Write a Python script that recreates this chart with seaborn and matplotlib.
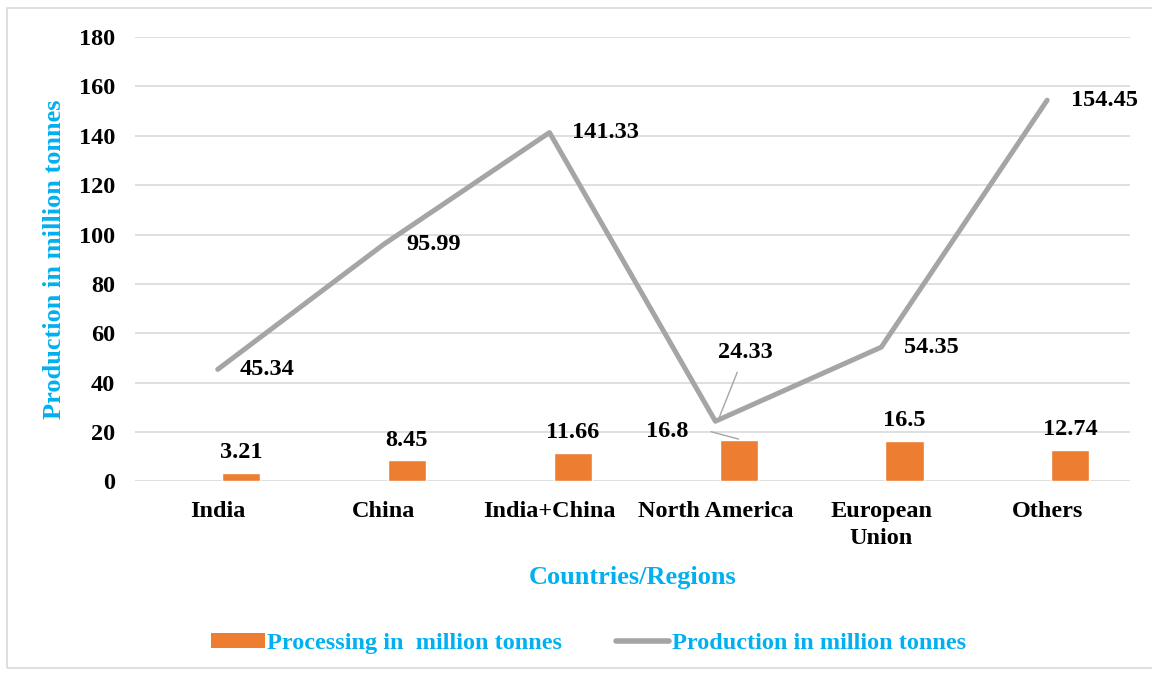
import numpy as np
import pandas as pd
import matplotlib
matplotlib.use("Agg")
import matplotlib.pyplot as plt
import seaborn as sns
from matplotlib.patches import Rectangle
from matplotlib.lines import Line2D
from matplotlib.patches import Patch

categories = ["India", "China", "India+China", "North America", "European\nUnion", "Others"]
processing = [3.21, 8.45, 11.66, 16.8, 16.5, 12.74]
production = [45.34, 95.99, 141.33, 24.33, 54.35, 154.45]
yticks = [0, 20, 40, 60, 80, 100, 120, 140, 160, 180]

sns.set_theme(style="white")
plt.rcParams["font.family"] = ["Liberation Serif", "DejaVu Serif"]
plt.rcParams["font.weight"] = "bold"
plt.rcParams["text.color"] = "black"
plt.rcParams["xtick.color"] = "black"
plt.rcParams["ytick.color"] = "black"

CYAN = "#00B0F0"
ORANGE = "#ED7D31"
GRAY = "#A5A5A5"
FS = 17.5

fig = plt.figure(figsize=(11.52, 6.75), dpi=100)
ax = fig.add_axes([0.117, 0.287, 0.864, 0.658])

pos = np.arange(len(categories))
df = pd.DataFrame({"pos": pos, "bpos": pos + 0.14, "processing": processing,
                   "production": production})

sns.barplot(data=df, x="bpos", y="processing", native_scale=True, width=0.23,
            color=ORANGE, saturation=1, ax=ax, zorder=3)
sns.lineplot(data=df, x="pos", y="production", color=GRAY, linewidth=3.6,
             ax=ax, zorder=4)

ax.set_xlim(-0.5, len(categories) - 0.5)
ax.set_ylim(0, 180)
ax.set_yticks(yticks)
ax.set_yticklabels([str(v) for v in yticks], fontsize=FS, fontweight="bold")
ax.set_xticks(pos)
ax.set_xticklabels(categories, fontsize=FS, fontweight="bold", linespacing=1.4)
ax.tick_params(axis="both", length=0)
ax.tick_params(axis="y", pad=14)
ax.tick_params(axis="x", pad=14)
ax.yaxis.grid(True, color="#D9D9D9", linewidth=1.2)
ax.set_axisbelow(True)
for s in ax.spines.values():
    s.set_visible(False)

ax.set_ylabel("Production in million tonnes", color=CYAN, fontsize=19,
              fontweight="bold", labelpad=9)
ax.set_xlabel("Countries/Regions", color=CYAN, fontsize=19, fontweight="bold",
              labelpad=12)

# production labels
for i, v in enumerate(production):
    if i == 3:
        ax.annotate(f"{v:g}", xy=(i + 0.02, v + 1), xytext=(i + 0.18, v + 28),
                    ha="center", va="center", fontsize=FS, fontweight="bold",
                    arrowprops=dict(arrowstyle="-", color=GRAY, lw=1,
                                    shrinkA=5, shrinkB=0))
    else:
        dx = 0.145 if i == 5 else 0.135
        ax.text(i + dx, v, f"{v:g}", ha="left", va="center",
                fontsize=FS, fontweight="bold")

# processing labels
for i, v in enumerate(processing):
    if i == 3:
        ax.annotate(f"{v:g}", xy=(i + 0.14, v + 0.3), xytext=(i - 0.29, v + 3.5),
                    ha="center", va="center", fontsize=FS, fontweight="bold",
                    arrowprops=dict(arrowstyle="-", color=GRAY, lw=1,
                                    shrinkA=14, shrinkB=0,
                                    connectionstyle="angle,angleA=0,angleB=-15,rad=0"))
    else:
        ax.text(i + 0.14, v + 4, f"{v:g}", ha="center", va="bottom",
                fontsize=FS, fontweight="bold")

handles = [Patch(facecolor=ORANGE, edgecolor="none"),
           Line2D([0], [0], color=GRAY, linewidth=4, solid_capstyle="round")]
leg = fig.legend(handles, ["Processing in  million tonnes", "Production in million tonnes"],
                 loc="center", bbox_to_anchor=(0.511, 0.047), ncol=2, frameon=False,
                 fontsize=17.5, handlelength=2.2, handleheight=0.6,
                 handletextpad=0.1, columnspacing=2.2)
for t in leg.get_texts():
    t.set_color(CYAN)
    t.set_fontweight("bold")

fig.patches.append(Rectangle((7 / 1152, 7 / 675), 1150 / 1152, 660 / 675,
                             transform=fig.transFigure, fill=False,
                             edgecolor="#D9D9D9", linewidth=1.2))

fig.savefig("out.png", dpi=100)
